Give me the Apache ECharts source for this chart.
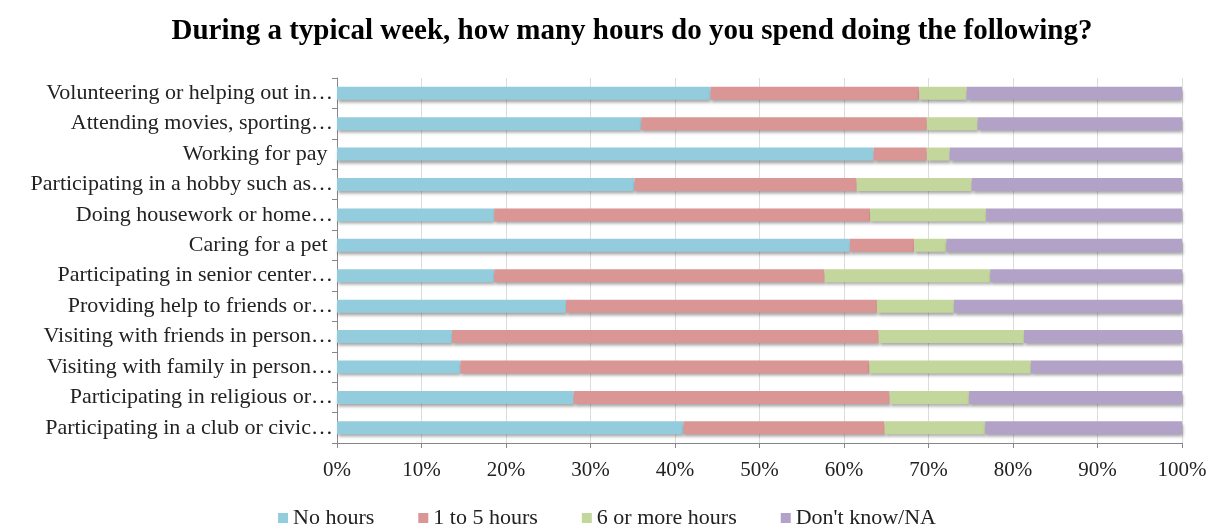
<!DOCTYPE html>
<html>
<head>
<meta charset="utf-8">
<script src="https://cdn.jsdelivr.net/npm/echarts@6/dist/echarts.min.js"></script>
<style>
  html, body { margin: 0; padding: 0; background: #fff; }
  #chart { width: 1214px; height: 525px; }
</style>
</head>
<body>
<div id="chart"></div>
<script>
const categories = [
  'Volunteering or helping out in…',
  'Attending movies, sporting…',
  'Working for pay ',
  'Participating in a hobby such as…',
  'Doing housework or home…',
  'Caring for a pet ',
  'Participating in senior center…',
  'Providing help to friends or…',
  'Visiting with friends in person…',
  'Visiting with family in person…',
  'Participating in religious or…',
  'Participating in a club or civic…'
]
const noHours    = [44.2, 36.0, 63.5, 35.2, 18.6, 60.7, 18.6, 27.1, 13.6, 14.6, 28.0, 41.0]
const oneToFive  = [24.7, 33.8,  6.3, 26.3, 44.5,  7.6, 39.1, 36.8, 50.5, 48.4, 37.4, 23.8]
const sixOrMore  = [ 5.6,  6.0,  2.7, 13.6, 13.7,  3.8, 19.6,  9.1, 17.2, 19.1,  9.4, 11.9]
const dontKnow   = [25.5, 24.2, 27.5, 24.9, 23.2, 27.9, 22.7, 27.0, 18.7, 17.9, 25.2, 23.3]

const seriesDefs = [
  { name: 'No hours', data: noHours, color: '#93cddd' },
  { name: '1 to 5 hours', data: oneToFive, color: '#d99694' },
  { name: '6 or more hours', data: sixOrMore, color: '#c3d69b' },
  { name: "Don't know/NA", data: dontKnow, color: '#b3a2c7' },
]

const font = '"Liberation Serif", "Times New Roman", serif'
const chart = echarts.init(document.getElementById('chart'), null, { renderer: 'canvas' })
chart.setOption({
  backgroundColor: '#fff',
  animation: false,
  title: {
    text: 'During a typical week, how many hours do you spend doing the following?',
    left: 627, top: 12, textAlign: 'center',
    textStyle: { fontFamily: font, fontWeight: 'bold', fontSize: 29, color: '#000' },
  },
  grid: { left: 337, right: 32, top: 78, bottom: 82, containLabel: false },
  legend: {
    top: 502, left: 'center',
    itemWidth: 10, itemHeight: 10, itemGap: 44,
    icon: 'rect',
    textStyle: { fontFamily: font, fontSize: 22, color: '#222' },
  },
  xAxis: {
    type: 'value', min: 0, max: 100, interval: 10,
    axisLine: { show: true, lineStyle: { color: '#868686' } },
    axisTick: { show: true, length: 5, lineStyle: { color: '#868686' } },
    axisLabel: { fontFamily: font, fontSize: 21, color: '#222', margin: 17, formatter: v => v + '%' },
    splitLine: { show: true, lineStyle: { color: '#dcdcdc' } },
  },
  yAxis: {
    type: 'category', data: categories, inverse: true,
    axisLine: { show: true, lineStyle: { color: '#868686' } },
    axisTick: { show: true, length: 5, lineStyle: { color: '#868686' } },
    axisLabel: { fontFamily: font, fontSize: 22, color: '#222', margin: 4 },
  },
  series: seriesDefs.map(s => ({
    name: s.name,
    type: 'bar',
    stack: 'total',
    data: s.data,
    barWidth: 13,
    itemStyle: {
      color: s.color,
      shadowColor: 'rgba(0,0,0,0.35)',
      shadowBlur: 3,
      shadowOffsetY: 3,
      shadowOffsetX: 1,
    },
  })),
})
</script>
</body>
</html>
